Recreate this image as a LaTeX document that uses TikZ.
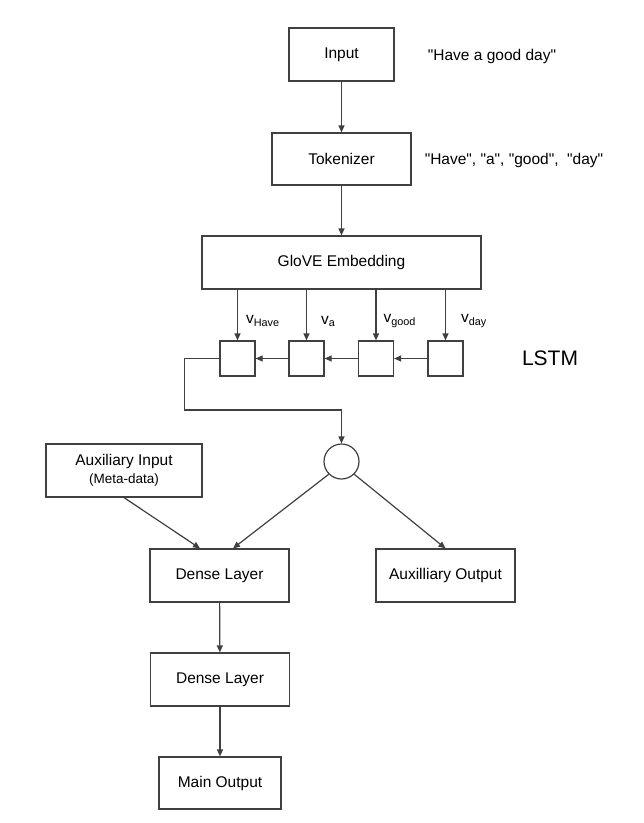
\documentclass[tikz,border=0pt]{standalone}
\usepackage{fontspec}
\setmainfont{Liberation Sans}[Ligatures=TeXOff]
\usetikzlibrary{arrows.meta}

\tikzset{
	box/.style={draw=black!75, line width=1.2pt, inner sep=0pt, align=center},
	cell/.style={draw=black!75, line width=1.2pt, minimum size=35, inner sep=0pt},
	arr/.style={draw=black!75, line width=1.2pt, -{Triangle[length=7pt,width=6pt]}},
	note/.style={inner sep=0pt}
}

\begin{document}
\begin{tikzpicture}[x=1pt, y=-1pt, font=\fontsize{15.5}{17.5}\selectfont]
			%%%%% START %%%%%
			
			\useasboundingbox (0, 0) rectangle (644, 823);
			
			\node[box, minimum width=105, minimum height=53] (inp) at (341.5, 54.5) {Input};
			\node[note] (sentence) at (492, 56) {"Have a good day"};
			
			\node[box, minimum width=139, minimum height=52] (tok) at (341.5, 159) {Tokenizer};
			\node[note] (tokens) at (514, 160) {"Have", "a", "good", \ "day"};
			
			\node[box, minimum width=279, minimum height=53] (glove) at (341.5, 262.5) {GloVE Embedding};
			
			\node[cell] (c1) at (237.5, 358.5) {};
			\node[cell] (c2) at (306.5, 358.5) {};
			\node[cell] (c3) at (376, 358.5) {};
			\node[cell] (c4) at (445.5, 358.5) {};
			\node[note, font=\fontsize{21}{24}\selectfont] (lstm) at (550, 358.5) {LSTM};
			
			\node[draw=black!75, line width=1.2pt, circle, minimum size=35, inner sep=0pt] (merge) at (341.5, 461.5) {};
			\coordinate (bend) at (341.5, 410);
			
			\node[box, minimum width=156, minimum height=53] (auxin) at (124, 470.5) {Auxiliary Input\\[1pt]{\fontsize{13.5}{15}\selectfont (Meta-data)}};
			
			\node[box, minimum width=139, minimum height=53] (dense1) at (219.5, 575.5) {Dense Layer};
			\node[box, minimum width=139, minimum height=53] (auxout) at (445.5, 575.5) {Auxilliary Output};
			\node[box, minimum width=139, minimum height=53] (dense2) at (220, 679.5) {Dense Layer};
			\node[box, minimum width=122, minimum height=52] (mainout) at (220, 783) {Main Output};
			
			% top chain
			\draw[arr] (inp) -- (tok);
			\draw[arr] (tok) -- (glove);
			
			% embedding vectors into the cells
			\draw[arr] (c1 |- glove.south) -- node[note, right=8pt, pos=0.62] {v\textsubscript{Have}} (c1.north);
			\draw[arr] (c2 |- glove.south) -- node[note, right=14pt, pos=0.62] {v\textsubscript{a}} (c2.north);
			\draw[arr] (c3 |- glove.south) -- node[note, right=7pt, pos=0.62] {v\textsubscript{good}} (c3.north);
			\draw[arr] (c4 |- glove.south) -- node[note, right=15pt, pos=0.62] {v\textsubscript{day}} (c4.north);
			
			% recurrence
			\draw[arr] (c4) -- (c3);
			\draw[arr] (c3) -- (c2);
			\draw[arr] (c2) -- (c1);
			
			\draw[arr] (c1.west) -- ++(-35, 0) |- (bend) -- (merge.north);
			
			% heads
			\draw[arr] (auxin.south) -- ([xshift=-19.5]dense1.north);
			\draw[arr] (merge.south west) -- ([xshift=13.5]dense1.north);
			\draw[arr] (merge.south east) -- (auxout.north);
			\draw[arr] (dense1) -- (dense2);
			\draw[arr] (dense2) -- (mainout);
			
			%%%%% END %%%%%
		\end{tikzpicture}
\end{document}
